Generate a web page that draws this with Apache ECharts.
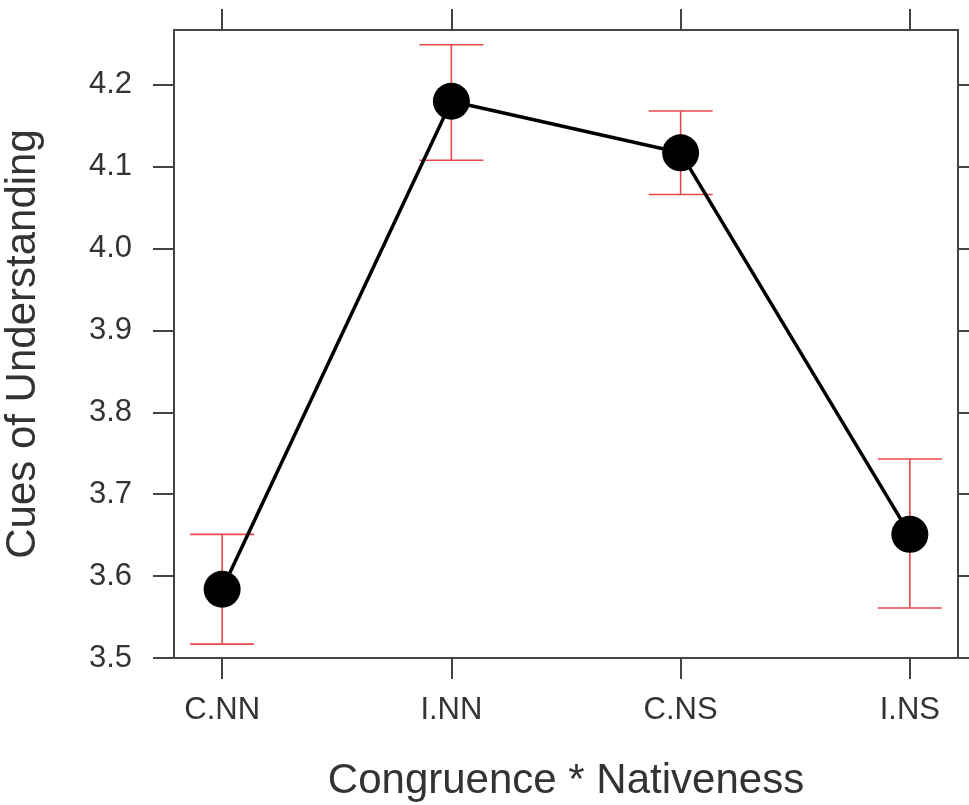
<!DOCTYPE html>
<html>
<head>
<meta charset="utf-8">
<script src="https://cdn.jsdelivr.net/npm/echarts@6/dist/echarts.min.js"></script>
<style>html,body{margin:0;padding:0;background:#fff;}#c{width:969px;height:805px;}</style>
</head>
<body>
<div id="c"></div>
<script>
var categories = ['C.NN', 'I.NN', 'C.NS', 'I.NS'];
var means = [3.584, 4.180, 4.117, 3.651];
var upper = [3.651, 4.249, 4.168, 3.743];
var lower = [3.517, 4.108, 4.066, 3.561];
var yTicks = [3.5, 3.6, 3.7, 3.8, 3.9, 4.0, 4.1, 4.2];
var xPositions = [1, 2, 3, 4];

var lineData = means.map(function (v, i) { return [xPositions[i], v]; });
var errData = means.map(function (v, i) { return [xPositions[i], lower[i], upper[i]]; });

var font = 'Liberation Sans, Arial, Helvetica, sans-serif';
var axisCol = '#444';

var chart = echarts.init(document.getElementById('c'), null, {renderer: 'canvas'});
chart.setOption({
  animation: false,
  backgroundColor: '#fff',
  grid: {left: 174, right: 11, top: 30, bottom: 147, containLabel: false, outerBoundsMode: 'none'},
  xAxis: [{
    type: 'value', min: 0.79, max: 4.21, position: 'bottom',
    axisLine: {show: true, lineStyle: {color: axisCol, width: 2}},
    axisTick: {show: true, customValues: xPositions, length: 21, lineStyle: {color: axisCol, width: 2}},
    axisLabel: {show: true, customValues: xPositions, margin: 37, fontSize: 31, color: '#333', fontFamily: font,
      formatter: function (v) { return categories[Math.round(v) - 1] || ''; }},
    splitLine: {show: false},
    name: 'Congruence * Nativeness', nameLocation: 'middle', nameGap: 102,
    nameTextStyle: {fontSize: 42, color: '#333', fontFamily: font}
  }, {
    type: 'value', min: 0.79, max: 4.21, position: 'top',
    axisLine: {show: true, lineStyle: {color: axisCol, width: 2}},
    axisTick: {show: true, customValues: xPositions, length: 21, lineStyle: {color: axisCol, width: 2}},
    axisLabel: {show: false},
    splitLine: {show: false}
  }],
  yAxis: [{
    type: 'value', min: 3.5, max: 4.267, position: 'left',
    axisLine: {show: true, lineStyle: {color: axisCol, width: 2}},
    axisTick: {show: true, customValues: yTicks, length: 21, lineStyle: {color: axisCol, width: 2}},
    axisLabel: {show: true, customValues: yTicks, margin: 42, fontSize: 31, color: '#333', fontFamily: font,
      formatter: function (v) { return v.toFixed(1); }},
    splitLine: {show: false},
    name: 'Cues of Understanding', nameLocation: 'middle', nameGap: 130,
    nameTextStyle: {fontSize: 42, color: '#333', fontFamily: font}
  }, {
    type: 'value', min: 3.5, max: 4.267, position: 'right',
    axisLine: {show: true, lineStyle: {color: axisCol, width: 2}},
    axisTick: {show: true, customValues: yTicks, length: 21, lineStyle: {color: axisCol, width: 2}},
    axisLabel: {show: false},
    splitLine: {show: false}
  }],
  series: [{
    type: 'custom',
    xAxisIndex: 0, yAxisIndex: 0,
    data: errData,
    z: 1,
    renderItem: function (params, api) {
      var x = api.value(0);
      var lo = api.coord([x, api.value(1)]);
      var hi = api.coord([x, api.value(2)]);
      var hw = 32;
      var style = {stroke: '#e8474b', lineWidth: 1.6};
      return {
        type: 'group',
        children: [
          {type: 'line', shape: {x1: lo[0], y1: lo[1], x2: hi[0], y2: hi[1]}, style: style},
          {type: 'line', shape: {x1: lo[0] - hw, y1: lo[1], x2: lo[0] + hw, y2: lo[1]}, style: style},
          {type: 'line', shape: {x1: hi[0] - hw, y1: hi[1], x2: hi[0] + hw, y2: hi[1]}, style: style}
        ]
      };
    }
  }, {
    type: 'line',
    xAxisIndex: 0, yAxisIndex: 0,
    data: lineData,
    z: 2,
    symbol: 'circle', symbolSize: 37,
    lineStyle: {color: '#000', width: 3.5},
    itemStyle: {color: '#000'}
  }]
});
</script>
</body>
</html>
